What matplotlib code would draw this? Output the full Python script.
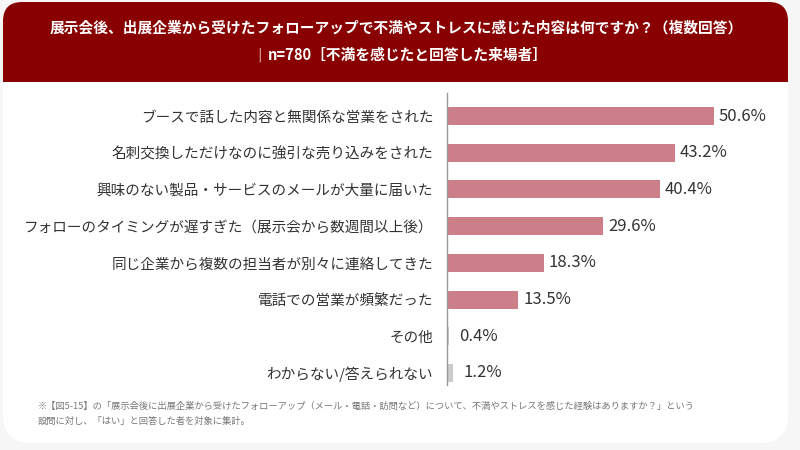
import matplotlib
matplotlib.use('Agg')
import matplotlib.pyplot as plt
from matplotlib.patches import FancyBboxPatch, Rectangle

plt.rcParams['font.family'] = ['Noto Sans CJK JP', 'DejaVu Sans']

TITLE = '展示会後、出展企業から受けたフォローアップで不満やストレスに感じた内容は何ですか？（複数回答）'
SUBTITLE = 'n=780［不満を感じたと回答した来場者］'
FOOTNOTE = ('※【図5-15】の「展示会後に出展企業から受けたフォローアップ（メール・電話・訪問など）について、'
            '不満やストレスを感じた経験はありますか？」という\n設問に対し、「はい」と回答した者を対象に集計。')

categories = [
    'ブースで話した内容と無関係な営業をされた',
    '名刺交換しただけなのに強引な売り込みをされた',
    '興味のない製品・サービスのメールが大量に届いた',
    'フォローのタイミングが遅すぎた（展示会から数週間以上後）',
    '同じ企業から複数の担当者が別々に連絡してきた',
    '電話での営業が頻繁だった',
    'その他',
    'わからない/答えられない',
]
values = [50.6, 43.2, 40.4, 29.6, 18.3, 13.5, 0.4, 1.2]
is_other = [False, False, False, False, False, False, True, True]

PINK = '#cd7f89'
GRAY = '#cccccc'
HEADER = '#880000'

W, H = 800, 450
fig = plt.figure(figsize=(8, 4.5), dpi=100, facecolor='#f6f6f6')


def fx(px):
    return px / W


def fy(py):
    return 1 - py / H


# card + header (rounded top corners only on the header)
card = FancyBboxPatch((fx(3), fy(443)), fx(785), (443 - 2) / H,
                      boxstyle='round,pad=0,rounding_size=0.035',
                      transform=fig.transFigure, fc='white', ec='none',
                      mutation_aspect=W / H, zorder=-2)
fig.patches.append(card)
head = FancyBboxPatch((fx(3), fy(82)), fx(785), 80 / H,
                      boxstyle='round,pad=0,rounding_size=0.024',
                      transform=fig.transFigure, fc=HEADER, ec='none',
                      mutation_aspect=W / H, zorder=-1)
fig.patches.append(head)
fig.patches.append(Rectangle((fx(3), fy(82)), fx(785), 30 / H,
                             transform=fig.transFigure, fc=HEADER, ec='none',
                             zorder=-1))

fig.text(fx(396), fy(27), TITLE, color='white', fontsize=10.6,
         fontweight='bold', ha='center', va='center')
fig.text(fx(260), fy(55), '|', color='#d9a0a0', fontsize=10,
         ha='center', va='center', family='DejaVu Sans')
fig.text(fx(268), fy(55), SUBTITLE, color='white', fontsize=10.6,
         fontweight='bold', ha='left', va='center')

# chart axes: x scale 5.277 px per %, rows 36.7 px apart
ax = fig.add_axes([fx(447), fy(385), 60 * 5.277 / W, (385 - 93) / H])
ax.set_zorder(2)
ax.set_facecolor('none')
ypos = list(range(len(categories)))
colors = [GRAY if o else PINK for o in is_other]
ax.barh(ypos, values, height=0.49, color=colors)
for y, v, o in zip(ypos, values, is_other):
    ax.annotate(f'{v:.1f}%', (v, y), xytext=(7 if o else 3.5, 0),
                textcoords='offset points', ha='left', va='center',
                fontsize=12, color='#333333')

ax.set_xlim(0, 60)
ax.set_ylim(7.33, -0.63)
ax.set_yticks(ypos)
ax.set_yticklabels(categories, fontsize=10.5, color='#333333')
ax.tick_params(axis='y', length=0, pad=10)
ax.set_xticks([])
for s in ['top', 'right', 'bottom']:
    ax.spines[s].set_visible(False)
ax.spines['left'].set_color('#999999')
ax.spines['left'].set_linewidth(1)

fig.text(fx(38), fy(402), FOOTNOTE, color='#777777', fontsize=6.7,
         ha='left', va='top', linespacing=1.75)

fig.savefig('out.png', dpi=100, facecolor=fig.get_facecolor())
